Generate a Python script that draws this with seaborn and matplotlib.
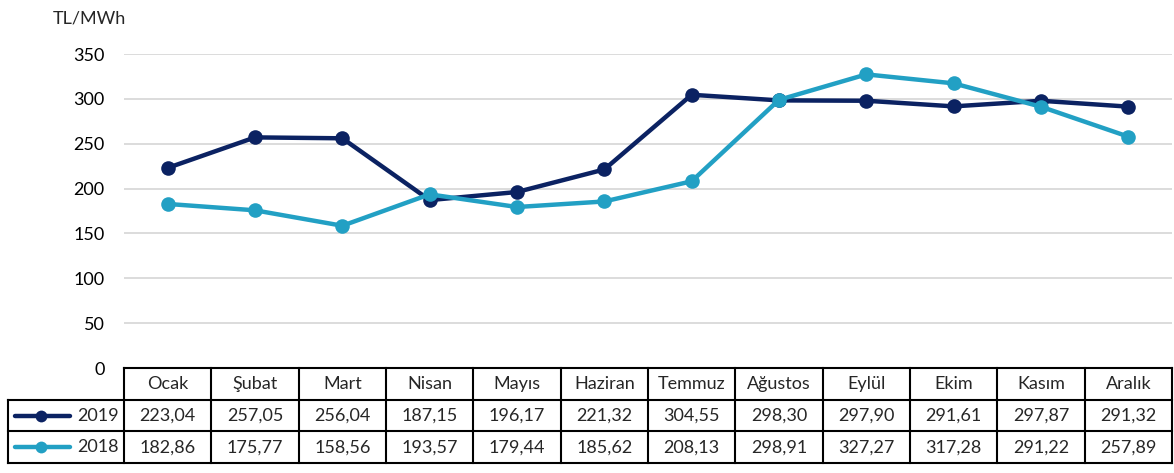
import pandas as pd
import matplotlib.pyplot as plt
import seaborn as sns
from matplotlib.lines import Line2D

# --- DATA ---
months = ['Ocak', 'Şubat', 'Mart', 'Nisan', 'Mayıs', 'Haziran', 'Temmuz',
          'Ağustos', 'Eylül', 'Ekim', 'Kasım', 'Aralık']
years = ['2019', '2018']
vals_2019 = [223.04, 257.05, 256.04, 187.15, 196.17, 221.32, 304.55,
             298.30, 297.90, 291.61, 297.87, 291.32]
vals_2018 = [182.86, 175.77, 158.56, 193.57, 179.44, 185.62, 208.13,
             298.91, 327.27, 317.28, 291.22, 257.89]
colors = {'2019': '#0B2262', '2018': '#22A0C4'}

df = pd.DataFrame({
    'x': list(range(12)) * 2,
    'value': vals_2019 + vals_2018,
    'year': ['2019'] * 12 + ['2018'] * 12,
})

sns.set_theme(style='white')
plt.rcParams['font.family'] = ['Lato', 'DejaVu Sans']

W, H = 1174, 473
fig = plt.figure(figsize=(W / 100, H / 100), dpi=100)

# plot area (pixel positions from the reference)
left, right, y0, y350 = 124, 1172, 368, 54
ax = fig.add_axes([left / W, 1 - y0 / H, (right - left) / W, (y0 - y350) / H])

sns.lineplot(data=df, x='x', y='value', hue='year', hue_order=years,
             palette=colors, marker='o', markersize=10.5, linewidth=3.2,
             markeredgewidth=0, legend=False, ax=ax, clip_on=False)

ax.set_xlim(-0.5, 11.5)
ax.set_ylim(0, 350)
ax.set_yticks(range(0, 351, 50))
ax.set_xticks([])
ax.set_xlabel('')
ax.set_ylabel('')
ax.yaxis.grid(True, color='#D9D9D9', linewidth=1.3)
ax.set_axisbelow(True)
for s in ax.spines.values():
    s.set_visible(False)
fs = 13
ax.tick_params(axis='y', length=0, pad=14, labelsize=fs, labelcolor='#000000')

fig.text(53 / W, 1 - 18 / H, 'TL/MWh', fontsize=fs, va='center', ha='left')

# --- DATA TABLE ---
tab = fig.add_axes([left / W, 1 - 463 / H, (right - left) / W, (463 - 368) / H])
tab.set_xlim(-0.5, 11.5)
tab.set_ylim(3, 0)
tab.axis('off')

lw = 1.5
colw = (right - left) / 12
leg_left = -0.5 - (left - 8) / colw
kw = dict(color='black', linewidth=lw, clip_on=False, solid_capstyle='projecting')
# horizontal lines
tab.plot([-0.5, 11.5], [0, 0], **kw)
for yy in [1, 2, 3]:
    tab.plot([leg_left, 11.5], [yy, yy], **kw)
# vertical lines
for i in range(13):
    tab.plot([i - 0.5, i - 0.5], [0, 3], **kw)
tab.plot([leg_left, leg_left], [1, 3], **kw)

for i, m in enumerate(months):
    tab.text(i, 0.5, m, ha='center', va='center', fontsize=fs)
for r, (yr, vals) in enumerate(zip(years, [vals_2019, vals_2018])):
    for i, v in enumerate(vals):
        tab.text(i, r + 1.5, f'{v:.2f}'.replace('.', ','), ha='center',
                 va='center', fontsize=fs)
    # legend key
    x1 = -0.5 - (left - 15) / colw
    x2 = -0.5 - (left - 70) / colw
    xm = -0.5 - (left - 41) / colw
    tab.add_line(Line2D([x1, x2], [r + 1.5, r + 1.5], color=colors[yr],
                        linewidth=3.2, clip_on=False, solid_capstyle='round'))
    tab.add_line(Line2D([xm], [r + 1.5], marker='o', markersize=8.5,
                        markeredgewidth=0, color=colors[yr], clip_on=False))
    tab.text(-0.5 - 5 / colw, r + 1.5, yr, ha='right', va='center', fontsize=fs)

fig.savefig('out.png', dpi=100)
